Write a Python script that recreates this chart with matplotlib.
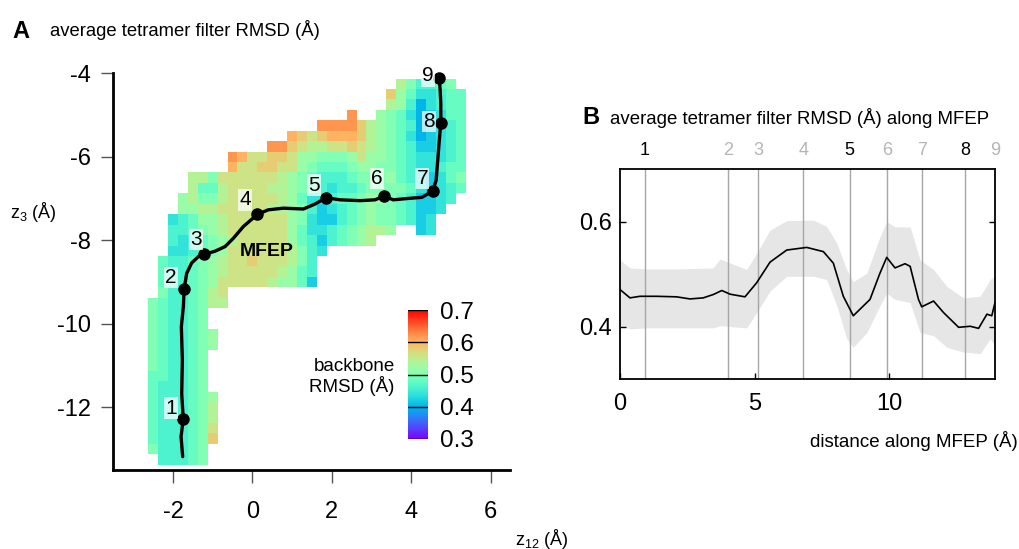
import numpy as np
import matplotlib
matplotlib.use("Agg")
import matplotlib.pyplot as plt

plt.rcParams['font.family'] = ['Liberation Sans', 'DejaVu Sans']
plt.rcParams['mathtext.default'] = 'regular'
plt.rcParams['axes.unicode_minus'] = False

# ---------------- panel A data ----------------
# RMSD map on 0.25 A bins; bin (k, j) is centred at z12 = 0.25*k, z3 = -4.25 - 0.25*j
# each row: first k, then one code per bin ('.' = empty), rmsd = 0.40 + 0.02*int(code, 16)
bin_size = 0.25
row_start = [15, 14, 14, 10, 7, 4, 2, -2, -2, -6, -6, -7, -7, -8, -8, -8, -8,
             -9, -9, -9, -9, -10, -10, -10, -10, -10, -10, -10, -10, -10, -10,
             -10, -10, -10, -10, -10, -9]
row_codes = [
    "753345",
    "96422344",
    "76302344",
    "b..654201244",
    "bbbb97654301234",
    "a989aaa97654201234",
    "bb987788987654311234",
    "ba8899866555686654322234",
    "a88998865444566554322344",
    "7758888887654333455564321245",
    "7447888877654323345555421234",
    "6755788888764223445665431123",
    "667788888776531234565543112",
    "234667888888652113456554312",
    "33456788888864223456776..12",
    "323456788888643134567",
    "2234568888887532",
    "4334567889888753",
    "4334567888887643",
    "4334568888876641",
    "5334578",
    "54334577",
    "543345",
    "543345",
    "5433456",
    "5433456",
    "543345",
    "543345",
    "443345",
    "433345",
    "4333456",
    "4333457",
    "4333457",
    "4333458",
    "4333459",
    "533345",
    "33345",
]

# minimum free energy path (z12, z3)
path_z12 = [-1.755, -1.797, -1.74, -1.78, -1.763, -1.789, -1.738, -1.72, -1.654,
            -1.528, -1.36, -1.209, -0.94, -0.688, -0.478, -0.227, 0.127, 0.40,
            0.78, 1.285, 1.58, 1.857, 2.21, 2.714, 3.09, 3.319, 3.55, 3.89,
            4.27, 4.545, 4.63, 4.67, 4.71, 4.747, 4.747, 4.73, 4.71]
path_z3 = [-13.18, -12.70, -12.28, -11.67, -10.87, -10.07, -9.59, -9.17, -8.79,
           -8.54, -8.39, -8.336, -8.26, -8.15, -7.95, -7.67, -7.378, -7.27,
           -7.23, -7.25, -7.13, -6.98, -7.03, -7.05, -7.03, -6.94, -7.03, -7.00,
           -6.97, -6.82, -6.56, -6.08, -5.60, -5.18, -4.72, -4.40, -4.12]
node_z12 = [-1.74, -1.72, -1.209, 0.127, 1.857, 3.319, 4.545, 4.747, 4.71]
node_z3 = [-12.28, -9.17, -8.336, -7.378, -6.98, -6.94, -6.82, -5.18, -4.12]
node_names = ["1", "2", "3", "4", "5", "6", "7", "8", "9"]
label_z12 = [-2.05, -2.05, -1.41, -0.18, 1.56, 3.14, 4.28, 4.45, 4.42]
label_z3 = [-12.02, -8.89, -7.98, -7.03, -6.68, -6.52, -6.52, -5.16, -4.06]

cbar_ticks = [0.3, 0.4, 0.5, 0.6, 0.7]

# ---------------- panel B data ----------------
mean_d = [0.0, 0.371, 0.743, 1.36, 2.10, 2.60, 3.09, 3.47, 3.78, 4.09, 4.64,
          5.07, 5.57, 6.19, 6.93, 7.55, 7.92, 8.29, 8.66, 9.28, 9.65, 9.90,
          10.21, 10.58, 10.77, 11.08, 11.2, 11.64, 12.01, 12.57, 13.0, 13.31,
          13.62, 13.80, 13.92]
mean_rmsd = [0.471, 0.455, 0.458, 0.458, 0.457, 0.453, 0.455, 0.4615, 0.469,
             0.462, 0.457, 0.4835, 0.523, 0.546, 0.551, 0.543, 0.521, 0.458,
             0.421, 0.452, 0.502, 0.532, 0.512, 0.520, 0.515, 0.452, 0.438,
             0.449, 0.427, 0.399, 0.401, 0.397, 0.424, 0.421, 0.446]
band_d = [0.0, 0.371, 0.990, 2.228, 3.466, 3.714, 4.704, 5.075, 5.57, 6.19,
          7.18, 7.67, 8.05, 8.42, 8.66, 9.16, 9.65, 9.90, 10.21, 10.77, 11.14,
          11.64, 12.13, 12.75, 13.37, 13.74, 13.92]
band_hi = [0.527, 0.512, 0.510, 0.510, 0.512, 0.529, 0.509, 0.540, 0.584, 0.602,
           0.603, 0.591, 0.559, 0.508, 0.486, 0.502, 0.571, 0.600, 0.590, 0.590,
           0.527, 0.509, 0.477, 0.455, 0.458, 0.490, 0.496]
band_lo = [0.402, 0.396, 0.398, 0.398, 0.398, 0.402, 0.398, 0.427, 0.468, 0.496,
           0.496, 0.490, 0.440, 0.377, 0.361, 0.389, 0.440, 0.464, 0.452, 0.446,
           0.389, 0.383, 0.361, 0.352, 0.349, 0.377, 0.364]
node_dist = [0.93, 4.02, 5.14, 6.81, 8.52, 9.90, 11.20, 12.81, 13.92]
node_dark = [True, False, False, False, True, False, False, True, False]

# ---------------- build the map ----------------
k_min, k_max = -10, 21
grid = np.full((len(row_codes), k_max - k_min + 1), np.nan)
for j, (k0, codes) in enumerate(zip(row_start, row_codes)):
    for i, c in enumerate(codes):
        if c != '.':
            grid[j, k0 + i - k_min] = 0.40 + 0.02 * int(c, 16)
x_edges = (np.arange(k_min, k_max + 2) - 0.5) * bin_size
y_edges = -4.125 - bin_size * np.arange(len(row_codes) + 1)

fig = plt.figure(figsize=(10.2, 5.49), dpi=100)

# panel A
axA = fig.add_axes([0.1108, 0.1439, 0.3892, 0.7226])
axA.pcolormesh(x_edges, y_edges, grid, cmap='rainbow', vmin=0.3, vmax=0.7)
axA.plot(path_z12, path_z3, color='black', lw=2.4, solid_capstyle='round',
         clip_on=False, zorder=3)
axA.plot(node_z12, node_z3, 'o', color='black', ms=8, clip_on=False, zorder=4)
for name, lx, ly in zip(node_names, label_z12, label_z3):
    axA.text(lx, ly, name, fontsize=15, ha='center', va='center', zorder=5,
             bbox=dict(boxstyle='square,pad=0.06', fc='white', ec='none', alpha=0.72))
axA.text(0.36, -8.26, "MFEP", fontsize=14, fontweight='bold', ha='center',
         va='center', zorder=5)
axA.set_xlim(-3.51, 6.49)
axA.set_ylim(-13.50, -4.0)
axA.set_xticks([-2, 0, 2, 4, 6])
axA.set_yticks([-4, -6, -8, -10, -12])
axA.tick_params(direction='out', length=9, width=1, color='#555555', labelsize=17)
axA.tick_params(axis='x', pad=13)
axA.tick_params(axis='y', pad=7)
for s in ['top', 'right']:
    axA.spines[s].set_visible(False)
for s in ['left', 'bottom']:
    axA.spines[s].set_linewidth(2)

# colour bar
cax = fig.add_axes([0.4003, 0.2004, 0.019, 0.2349])
cax.imshow(np.linspace(0.3, 0.7, 256).reshape(-1, 1), cmap='rainbow', vmin=0.3,
           vmax=0.7, origin='lower', aspect='auto', extent=[0, 1, 0.3, 0.7])
for t in cbar_ticks:
    cax.axhline(t, color='black', lw=1)
cax.set_xticks([])
cax.set_yticks(cbar_ticks)
cax.set_yticklabels(["%.1f" % t for t in cbar_ticks])
cax.yaxis.tick_right()
cax.tick_params(axis='y', length=0, pad=9, labelsize=17.5)
for s in cax.spines.values():
    s.set_visible(False)
fig.text(0.387, 1 - 377 / 549, "backbone\nRMSD (Å)", fontsize=13.5, ha='right',
         va='center', linespacing=1.1)

fig.text(0.012, 1 - 31 / 549, "A", fontsize=17, fontweight='bold', va='center')
fig.text(0.049, 1 - 30 / 549, "average tetramer filter RMSD (Å)", fontsize=13.3,
         va='center')
fig.text(0.01, 1 - 212 / 549, "z$_3$ (Å)", fontsize=13, va='center')
fig.text(0.505, 1 - 539 / 549, "z$_{12}$ (Å)", fontsize=13, va='center')

# panel B
axB = fig.add_axes([0.6078, 0.309, 0.3677, 0.383])
axB.fill_between(band_d, band_lo, band_hi, color='#e6e6e6', lw=0)
for d in node_dist[:-1]:
    axB.axvline(d, color='#a6a6a6', lw=1)
axB.plot(mean_d, mean_rmsd, color='black', lw=1.2)
for name, d, dark in zip(node_names, node_dist, node_dark):
    axB.annotate(name, xy=(d, 1), xycoords=('data', 'axes fraction'),
                 xytext=(0, 7), textcoords='offset points', ha='center',
                 va='bottom', fontsize=13, color='black' if dark else '#b5b5b5',
                 annotation_clip=False)
axB.set_xlim(0, 13.92)
axB.set_ylim(0.3, 0.7)
axB.set_xticks([0, 5, 10])
axB.set_yticks([0.4, 0.6])
axB.set_yticklabels(["0.4", "0.6"])
axB.tick_params(direction='in', length=4, width=1, labelsize=17, right=True)
axB.tick_params(axis='x', pad=10)
axB.tick_params(axis='y', pad=6)
for s in axB.spines.values():
    s.set_linewidth(1.3)

fig.text(0.571, 1 - 118 / 549, "B", fontsize=17, fontweight='bold', va='center')
fig.text(0.598, 1 - 118 / 549, "average tetramer filter RMSD (Å) along MFEP",
         fontsize=13.4, va='center')
fig.text(0.998, 1 - 441 / 549, "distance along MFEP (Å)", fontsize=13.5,
         ha='right', va='center')

fig.savefig("out.png", dpi=100)
